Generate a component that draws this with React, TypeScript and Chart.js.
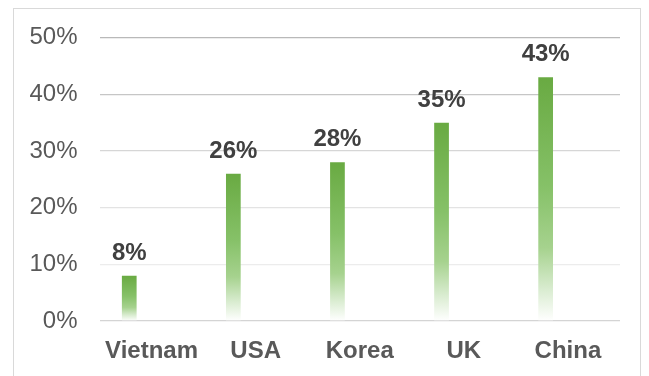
import React, { useEffect, useRef } from "react";
import { Chart, registerables } from "chart.js";

Chart.register(...registerables);

// Share by country
const countries = ["Vietnam", "USA", "Korea", "UK", "China"];
const shares = [8, 26, 28, 35, 43];
// Second column of the source table is empty; it still takes a slot in each group
const blankColumn = [null, null, null, null, null];
const yTicks = [0, 10, 20, 30, 40, 50];

const FONT = "'Liberation Sans', Arial, sans-serif";

// Grid lines fade from darker at the top to lighter near the bottom
const gridColors: Record<number, string> = {
  0: "#d4d4d4",
  10: "#ececec",
  20: "#e3e3e3",
  30: "#d6d6d6",
  40: "#c6c6c6",
  50: "#b9b9b9",
};

const valueLabels = {
  id: "valueLabels",
  afterDatasetsDraw(chart: any) {
    const ctx = chart.ctx;
    const meta = chart.getDatasetMeta(0);
    ctx.save();
    ctx.font = `bold 24px ${FONT}`;
    ctx.fillStyle = "#404040";
    ctx.textAlign = "center";
    ctx.textBaseline = "alphabetic";
    meta.data.forEach((bar: any, i: number) => {
      ctx.fillText(`${shares[i]}%`, bar.x, bar.y - 16);
    });
    ctx.restore();
  },
};

export default function App() {
  const canvasRef = useRef<HTMLCanvasElement | null>(null);

  useEffect(() => {
    if (!canvasRef.current) return;
    const chart = new Chart(canvasRef.current, {
      type: "bar",
      data: {
        labels: countries,
        datasets: [
          {
            label: "Share",
            data: shares,
            backgroundColor: (c: any) => {
              const ch = c.chart;
              if (!ch.chartArea || c.type !== "data") return "#70ad47";
              const y = ch.scales.y;
              const top = y.getPixelForValue(c.raw);
              const base = y.getPixelForValue(0);
              const g = ch.ctx.createLinearGradient(0, top, 0, base);
              g.addColorStop(0, "#69aa42");
              g.addColorStop(0.45, "#86c168");
              g.addColorStop(0.7, "#a6d28e");
              g.addColorStop(0.87, "#d9ecd0");
              g.addColorStop(1, "#ffffff");
              return g;
            },
            borderWidth: 0,
            categoryPercentage: 0.857,
            barPercentage: 0.33,
          },
          {
            label: "",
            data: blankColumn,
            backgroundColor: "rgba(0,0,0,0)",
            categoryPercentage: 0.857,
            barPercentage: 0.33,
          },
        ],
      },
      options: {
        animation: false,
        responsive: true,
        maintainAspectRatio: false,
        layout: { padding: { top: 28.7, right: 20, bottom: 0, left: 0 } },
        plugins: {
          legend: { display: false },
          tooltip: { enabled: false },
        },
        scales: {
          x: {
            grid: { display: false },
            border: { display: false },
            ticks: {
              color: "#595959",
              font: { family: FONT, size: 24, weight: "bold" },
              padding: 8,
              maxRotation: 0,
            },
            afterFit: (s: any) => {
              s.height = 55;
              s.paddingLeft = 0;
              s.paddingRight = 0;
            },
          },
          y: {
            min: 0,
            max: 50,
            border: { display: false },
            grid: {
              drawTicks: false,
              lineWidth: 1.3,
              color: (c: any) => gridColors[c.tick?.value] ?? "#e0e0e0",
            },
            afterBuildTicks: (s: any) => {
              s.ticks = yTicks.map((v) => ({ value: v }));
            },
            ticks: {
              color: "#595959",
              font: { family: FONT, size: 24 },
              padding: 22,
              callback: (v: any) => `${v}%`,
            },
            afterFit: (s: any) => {
              s.width = 85.5;
              s.paddingTop = 0;
              s.paddingBottom = 0;
            },
          },
        },
      },
      plugins: [valueLabels],
    });
    return () => chart.destroy();
  }, []);

  return (
    <div
      style={{
        marginLeft: 5,
        width: 626,
        height: 380,
        border: "1px solid #d9d9d9",
        background: "#ffffff",
        boxSizing: "content-box",
      }}
    >
      <div style={{ position: "relative", width: 626, height: 367 }}>
        <canvas ref={canvasRef} />
      </div>
    </div>
  );
}
